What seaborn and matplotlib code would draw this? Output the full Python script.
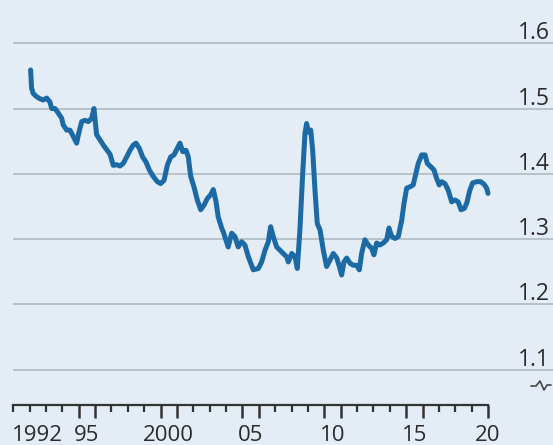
import numpy as np
import pandas as pd
import matplotlib
matplotlib.use('Agg')
import matplotlib.pyplot as plt
import matplotlib.transforms as mtransforms
import seaborn as sns

# 読み取ったデータ（年、値）
years = [1992.06, 1992.12, 1992.22, 1992.43, 1992.63, 1992.83, 1993.04, 1993.24, 1993.35, 1993.55,
         1993.75, 1993.96, 1994.05, 1994.26, 1994.46, 1994.67, 1994.87, 1994.97, 1995.18, 1995.38,
         1995.58, 1995.79, 1995.93, 1996.09, 1996.30, 1996.50, 1996.91, 1997.11, 1997.32, 1997.52,
         1997.72, 1997.93, 1998.13, 1998.33, 1998.50, 1998.70, 1998.90, 1999.11, 1999.31, 1999.55,
         1999.80, 2000.00, 2000.21, 2000.41, 2000.62, 2000.82, 2001.02, 2001.18, 2001.35, 2001.55,
         2001.69, 2001.84, 2002.04, 2002.24, 2002.45, 2002.65, 2002.85, 2003.06, 2003.22, 2003.38,
         2003.52, 2003.73, 2003.83, 2004.13, 2004.34, 2004.54, 2004.74, 2004.95, 2005.15, 2005.36,
         2005.66, 2005.97, 2006.17, 2006.38, 2006.58, 2006.72, 2006.88, 2007.09, 2007.29, 2007.49,
         2007.70, 2007.80, 2008.01, 2008.21, 2008.35, 2008.51, 2008.68, 2008.82, 2008.92, 2009.02,
         2009.17, 2009.29, 2009.43, 2009.57, 2009.74, 2009.94, 2010.14, 2010.35, 2010.55, 2010.76,
         2010.92, 2011.06, 2011.20, 2011.37, 2011.57, 2011.77, 2011.98, 2012.14, 2012.28, 2012.48,
         2012.69, 2012.89, 2013.03, 2013.20, 2013.40, 2013.60, 2013.81, 2013.95, 2014.12, 2014.32,
         2014.52, 2014.73, 2014.87, 2015.03, 2015.23, 2015.43, 2015.60, 2015.74, 2015.95, 2016.15,
         2016.29, 2016.50, 2016.70, 2016.86, 2017.02, 2017.17, 2017.37, 2017.57, 2017.78, 2017.98,
         2018.18, 2018.35, 2018.55, 2018.70, 2018.89, 2019.06, 2019.31, 2019.55, 2019.76, 2019.92,
         2020.00]
values = [1.559, 1.531, 1.523, 1.518, 1.515, 1.513, 1.516, 1.510, 1.500, 1.500,
          1.493, 1.485, 1.475, 1.467, 1.467, 1.457, 1.447, 1.459, 1.480, 1.482,
          1.480, 1.485, 1.500, 1.460, 1.452, 1.444, 1.430, 1.413, 1.414, 1.412,
          1.416, 1.426, 1.436, 1.444, 1.447, 1.439, 1.426, 1.418, 1.406, 1.396,
          1.388, 1.385, 1.390, 1.413, 1.426, 1.429, 1.439, 1.447, 1.434, 1.436,
          1.426, 1.396, 1.380, 1.360, 1.345, 1.352, 1.362, 1.368, 1.376, 1.358,
          1.334, 1.317, 1.311, 1.288, 1.309, 1.304, 1.288, 1.296, 1.291, 1.273,
          1.253, 1.255, 1.265, 1.283, 1.296, 1.319, 1.304, 1.288, 1.283, 1.278,
          1.273, 1.265, 1.278, 1.273, 1.255, 1.314, 1.401, 1.462, 1.477, 1.464,
          1.467, 1.436, 1.375, 1.324, 1.314, 1.283, 1.258, 1.268, 1.278, 1.271,
          1.258, 1.245, 1.265, 1.271, 1.263, 1.260, 1.260, 1.253, 1.278, 1.299,
          1.291, 1.286, 1.276, 1.294, 1.291, 1.294, 1.299, 1.317, 1.304, 1.301,
          1.304, 1.329, 1.355, 1.378, 1.380, 1.383, 1.401, 1.416, 1.429, 1.429,
          1.416, 1.411, 1.406, 1.393, 1.383, 1.388, 1.385, 1.375, 1.357, 1.360,
          1.357, 1.345, 1.347, 1.355, 1.375, 1.386, 1.388, 1.388, 1.384, 1.378,
          1.370]

y_ticks = [1.1, 1.2, 1.3, 1.4, 1.5, 1.6]
y_labels = ['1.1', '1.2', '1.3', '1.4', '1.5', '1.6']
x_label_pos = [1992.5, 1995.5, 2000.5, 2005.5, 2010.5, 2015.5, 2020.0]
x_labels = ['1992', '95', '2000', '05', '10', '15', '20']
long_ticks = [1995, 1996, 2000, 2001, 2005, 2006, 2010, 2011, 2015, 2016, 2020]

df = pd.DataFrame({'year': years, 'value': values})

bg = '#e4edf5'
line_color = '#1c6aa5'
grid_color = '#b7c1c8'
text_color = '#2b2b2b'
font = ['Open Sans', 'DejaVu Sans']

sns.set_style('white')
plt.rcParams['font.family'] = font

fig = plt.figure(figsize=(5.53, 4.45), dpi=100)
fig.patch.set_facecolor(bg)
ax = fig.add_axes([0, 0, 1, 1])
ax.set_facecolor(bg)

x_min, x_max = 1990.19, 2023.97
y_min, y_max = 0.9847, 1.6662
ax.set_xlim(x_min, x_max)
ax.set_ylim(y_min, y_max)

# グリッド線
ax.hlines(y_ticks, 1991, x_max, colors=grid_color, linewidth=1.4, zorder=1)

sns.lineplot(data=df, x='year', y='value', ax=ax, color=line_color,
             linewidth=3.6, zorder=3, solid_capstyle='round', solid_joinstyle='round')

# y軸ラベル（右側、グリッド線の上）
trans = mtransforms.blended_transform_factory(ax.transAxes, ax.transData)
for v, lab in zip(y_ticks, y_labels):
    ax.text(0.995, v + 0.006, lab, transform=trans, ha='right', va='baseline',
            fontsize=16.5, color=text_color)

# x軸
for s in ['top', 'right', 'left']:
    ax.spines[s].set_visible(False)
ax.spines['bottom'].set_position(('data', 1.0459))
ax.spines['bottom'].set_bounds(1991, 2020)
ax.spines['bottom'].set_color('#333333')
ax.spines['bottom'].set_linewidth(1.6)
ax.set_xticks(long_ticks)
ax.set_xticks(np.arange(1991, 2021), minor=True)
ax.set_xticklabels([])
ax.tick_params(axis='x', which='both', bottom=True, top=False, labelbottom=False)
ax.tick_params(axis='x', which='major', length=9, width=1.8, color='#333333', direction='out')
ax.tick_params(axis='x', which='minor', length=5, width=1.6, color='#333333', direction='out')
ax.set_yticks([])
ax.set_xlabel('')
ax.set_ylabel('')

for p, lab in zip(x_label_pos, x_labels):
    ax.text(p, 0.9915, lab, ha='center', va='baseline', fontsize=16, color=text_color)

# 軸の省略記号
zx = np.array([531, 536, 540, 544, 547, 551]) / 553
zy = 1 - np.array([386, 386, 381, 390, 385, 385]) / 445
ax.plot(zx, zy, transform=ax.transAxes, color='#444444', linewidth=1.2, clip_on=False)

fig.savefig('out.png', dpi=100, facecolor=bg)
